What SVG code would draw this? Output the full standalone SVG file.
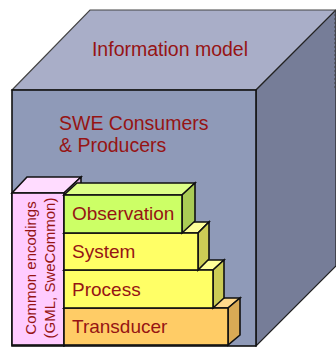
<svg xmlns="http://www.w3.org/2000/svg" width="336" height="347" viewBox="0 0 336 347">
<style>
.lbl{font-family:"Liberation Sans",Arial,sans-serif;fill:#961414}
.edge{stroke:#111;stroke-width:1.6;stroke-linejoin:miter}
</style>
<rect width="336" height="347" fill="#fff"/>
<g id="cube">
<polygon points="12,90 90,10 336,10 256,90" fill="#a9aec8" stroke="#444" stroke-width="1.2"/>
<polygon points="256,90 336,10 336,266 256,346" fill="#767d98" stroke="#222" stroke-width="1.2"/>
<rect x="12" y="90" width="244" height="256" fill="#8f9ab8" class="edge" stroke-width="2"/>
<line x1="335" y1="10" x2="335" y2="90" stroke="#444" stroke-width="1" stroke-dasharray="2,2"/>
<text class="lbl" x="170" y="56" font-size="19.5" text-anchor="middle">Information model</text>
<text class="lbl" x="59" y="130" font-size="19.5">SWE Consumers</text>
<text class="lbl" x="59" y="152" font-size="19.5">&amp; Producers</text>
</g>
<g id="common-encodings">
<polygon points="12,193 27,177 81,177 64,193" fill="#ffdcff" class="edge"/>
<polygon points="64,193 81,177 81,330 64,346" fill="#ddaadd" class="edge"/>
<rect x="12" y="193" width="52" height="152" fill="#ffccff" class="edge"/>
<text class="lbl" font-size="15" text-anchor="middle" transform="translate(36,268) rotate(-90)">Common encodings</text>
<text class="lbl" font-size="15" text-anchor="middle" transform="translate(55,268) rotate(-90)">(GML, SweCommon)</text>
</g>
<g id="transducer">
<polygon points="64,308 76,298 240,298 228,308" fill="#ffd98c" class="edge"/>
<polygon points="228,308 240,298 240,335 228,345" fill="#d9aa55" class="edge"/>
<rect x="64" y="308" width="164" height="37" fill="#ffcc66" class="edge"/>
<text class="lbl" x="72" y="333" font-size="19">Transducer</text>
</g>
<g id="process">
<polygon points="64,270 76,260 224,260 213,270" fill="#ffff99" class="edge"/>
<polygon points="213,270 224,260 224,298 213,308" fill="#cccc55" class="edge"/>
<rect x="64" y="270" width="149" height="38" fill="#ffff66" class="edge"/>
<text class="lbl" x="72" y="296" font-size="19">Process</text>
</g>
<g id="system">
<polygon points="64,233 76,222 209,222 198,233" fill="#ffff99" class="edge"/>
<polygon points="198,233 209,222 209,259 198,270" fill="#cccc55" class="edge"/>
<rect x="64" y="233" width="134" height="37" fill="#ffff66" class="edge"/>
<text class="lbl" x="72" y="258" font-size="19">System</text>
</g>
<g id="observation">
<polygon points="64,195 77,183 195,183 182,195" fill="#ddff88" class="edge"/>
<polygon points="182,195 195,183 195,221 182,233" fill="#aacc55" class="edge"/>
<rect x="64" y="195" width="118" height="38" fill="#ccff66" class="edge"/>
<text class="lbl" x="72" y="220" font-size="19">Observation</text>
</g>
<g id="connectors"/>
</svg>
